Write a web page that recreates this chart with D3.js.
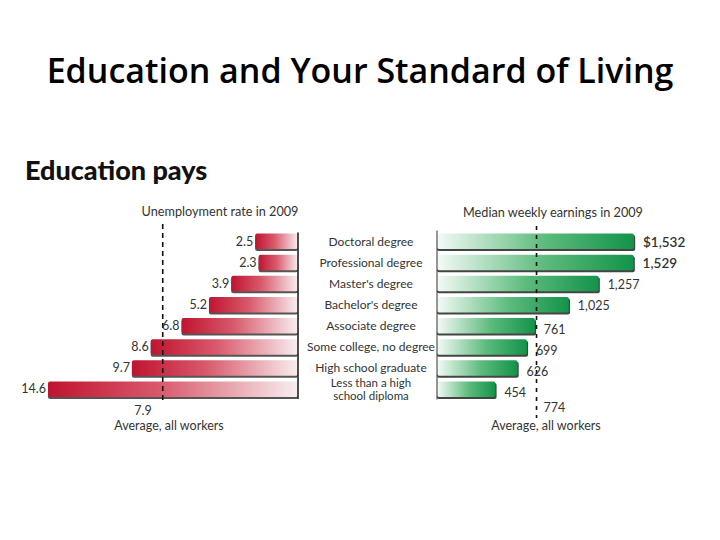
<!DOCTYPE html>
<html><head><meta charset="utf-8">
<script src="https://cdn.jsdelivr.net/npm/d3@7"></script>
<style>body{margin:0;background:#fff}svg{display:block}</style>
</head><body>
<script>
const categories = ["Doctoral degree","Professional degree","Master's degree","Bachelor's degree","Associate degree","Some college, no degree","High school graduate","Less than a high|school diploma"];
const unemployment = [2.5,2.3,3.9,5.2,6.8,8.6,9.7,14.6];
const earnings = [1532,1529,1257,1025,761,699,626,454];
const avgUnemployment = 7.9;
const avgEarnings = 774;

const W=720,H=540;
const svg=d3.select("body").append("svg").attr("width",W).attr("height",H);
const font="Lato, 'Noto Sans', sans-serif";
const defs=svg.append("defs");
const gr=defs.append("linearGradient").attr("id","gRed").attr("x1","0").attr("x2","1").attr("y1","0").attr("y2","0");
gr.append("stop").attr("offset","0%").attr("stop-color","#c0142f");
gr.append("stop").attr("offset","45%").attr("stop-color","#d85a6c");
gr.append("stop").attr("offset","100%").attr("stop-color","#f8eef0");
const gg=defs.append("linearGradient").attr("id","gGreen").attr("x1","0").attr("x2","1").attr("y1","0").attr("y2","0");
gg.append("stop").attr("offset","0%").attr("stop-color","#f4faf6");
gg.append("stop").attr("offset","55%").attr("stop-color","#5cbb7c");
gg.append("stop").attr("offset","100%").attr("stop-color","#13934a");

svg.append("text").attr("x",360).attr("y",83).attr("text-anchor","middle")
  .attr("font-family","'Open Sans', 'Noto Sans', sans-serif").attr("font-weight",600).attr("font-size",34).attr("fill","#000").text("Education and Your Standard of Living");
svg.append("text").attr("x",25).attr("y",180).attr("font-family",font).attr("font-weight",900)
  .attr("font-size",27).attr("fill","#111").text("Education pays");

const y=d3.scaleBand().domain(categories).range([231,400]).paddingInner(0.24).paddingOuter(0.12);
const xL=d3.scaleLinear().domain([0,14.6]).range([298,48]);
const xR=d3.scaleLinear().domain([0,1532]).range([437,634]);
const bw=y.bandwidth();

// Left chart
const gL=svg.append("g");
gL.selectAll("rect.sh").data(unemployment).join("rect")
  .attr("x",d=>xL(d)).attr("y",(d,i)=>y(categories[i])+1.5).attr("width",d=>xL(0)-xL(d)).attr("height",bw)
  .attr("rx",2).attr("fill","#555");
gL.selectAll("rect.b").data(unemployment).join("rect")
  .attr("x",d=>xL(d)).attr("y",(d,i)=>y(categories[i])).attr("width",d=>xL(0)-xL(d)).attr("height",bw-0.5)
  .attr("rx",2).attr("fill","url(#gRed)");
gL.append("line").attr("x1",xL(0)).attr("x2",xL(0)).attr("y1",y(categories[0])-1).attr("y2",y(categories[7])+bw+1.5)
  .attr("stroke","#222").attr("stroke-width",1.6);
gL.append("line").attr("x1",xL(avgUnemployment)).attr("x2",xL(avgUnemployment)).attr("y1",224).attr("y2",404)
  .attr("stroke","#111").attr("stroke-width",1.6).attr("stroke-dasharray","5,4");
gL.selectAll("text.v").data(unemployment).join("text")
  .attr("x",d=>xL(d)-2).attr("y",(d,i)=>y(categories[i])+bw/2+4).attr("text-anchor","end")
  .attr("font-family",font).attr("font-size",12.5).attr("fill","#333").text(d=>d3.format(".1f")(d));
gL.append("text").attr("x",xL(avgUnemployment)-11).attr("y",415).attr("text-anchor","end")
  .attr("font-family",font).attr("font-size",12.5).attr("fill","#333").text(d3.format(".1f")(avgUnemployment));
gL.append("text").attr("x",169).attr("y",430).attr("text-anchor","middle")
  .attr("font-family",font).attr("font-size",12.5).attr("fill","#333").text("Average, all workers");
gL.append("text").attr("x",220).attr("y",216).attr("text-anchor","middle")
  .attr("font-family",font).attr("font-size",12.7).attr("fill","#333").text("Unemployment rate in 2009");

// Category labels
const gC=svg.append("g");
categories.forEach((c,i)=>{
  const parts=c.split("|");
  const cy=y(c)+bw/2;
  const t=gC.append("text").attr("text-anchor","middle").attr("font-family",font)
    .attr("font-size",parts.length>1?11.5:12).attr("fill","#333");
  parts.forEach((p,j)=>{
    t.append("tspan").attr("x",371).attr("y",cy+4+(j-(parts.length-1)/2)*12.5).text(p);
  });
});

// Right chart
const gR=svg.append("g");
gR.selectAll("rect.sh").data(earnings).join("rect")
  .attr("x",xR(0)).attr("y",(d,i)=>y(categories[i])+1.5).attr("width",d=>xR(d)-xR(0)+1.2).attr("height",bw)
  .attr("rx",2).attr("fill","#444");
gR.selectAll("rect.b").data(earnings).join("rect")
  .attr("x",xR(0)).attr("y",(d,i)=>y(categories[i])).attr("width",d=>xR(d)-xR(0)).attr("height",bw-0.5)
  .attr("rx",2).attr("fill","url(#gGreen)");
gR.append("line").attr("x1",xR(0)).attr("x2",xR(0)).attr("y1",y(categories[0])-3).attr("y2",y(categories[7])+bw+2)
  .attr("stroke","#333").attr("stroke-width",1);
gR.append("line").attr("x1",xR(avgEarnings)).attr("x2",xR(avgEarnings)).attr("y1",226).attr("y2",418)
  .attr("stroke","#111").attr("stroke-width",1.6).attr("stroke-dasharray","4,5");
gR.selectAll("text.v").data(earnings).join("text")
  .attr("x",d=>xR(d)+9).attr("y",(d,i)=>y(categories[i])+bw/2+(i>=4?8:5))
  .attr("font-family",font).attr("font-size",(d,i)=>i<2?13.5:12.5).attr("font-weight",(d,i)=>i<2?600:400)
  .attr("fill","#333").text((d,i)=>(i===0?"$":"")+d3.format(",")(d));
gR.append("text").attr("x",xR(avgEarnings)+7).attr("y",412)
  .attr("font-family",font).attr("font-size",12.5).attr("fill","#333").text(d3.format(",")(avgEarnings));
gR.append("text").attr("x",546).attr("y",430).attr("text-anchor","middle")
  .attr("font-family",font).attr("font-size",12.5).attr("fill","#333").text("Average, all workers");
gR.append("text").attr("x",553).attr("y",217).attr("text-anchor","middle")
  .attr("font-family",font).attr("font-size",12.7).attr("fill","#333").text("Median weekly earnings in 2009");
</script>
</body></html>
